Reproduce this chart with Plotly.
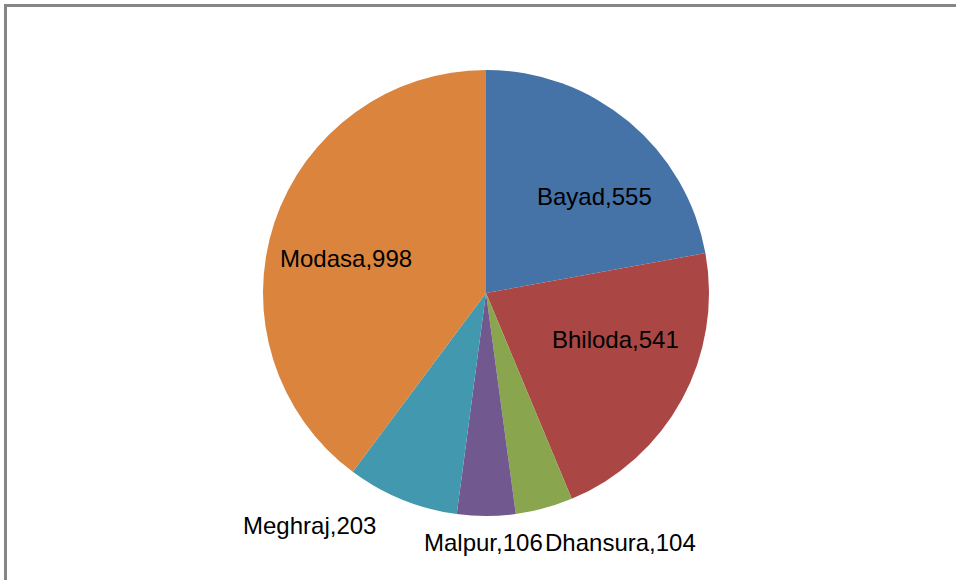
import plotly.graph_objects as go

labels = ["Bayad", "Bhiloda", "Dhansura", "Malpur", "Meghraj", "Modasa"]
values = [555, 541, 104, 106, 203, 998]
colors = ["#4572A7", "#AA4643", "#89A54E", "#71588F", "#4198AF", "#DB843D"]

# label anchor positions (pixels in the 956x580 figure), layout only
label_px = [(594, 196), (615, 340), (620, 542), (483, 542), (309, 525), (346, 258)]

W, H = 956, 580
cx, cy, R = 486, 293, 223

fig = go.Figure(go.Pie(
    labels=labels,
    values=values,
    sort=False,
    direction="clockwise",
    rotation=0,
    marker=dict(colors=colors, line=dict(width=0)),
    textinfo="none",
    showlegend=False,
    hoverinfo="label+value",
    domain=dict(x=[(cx - R) / W, (cx + R) / W], y=[1 - (cy + R) / H, 1 - (cy - R) / H]),
))

annotations = []
for lab, val, (px, py) in zip(labels, values, label_px):
    annotations.append(dict(
        x=px / W, y=1 - py / H, xref="paper", yref="paper",
        text=f"{lab},{val}", showarrow=False,
        xanchor="center", yanchor="middle",
        font=dict(family="Liberation Sans", size=24, color="#000000"),
    ))

fig.update_layout(
    width=W, height=H,
    margin=dict(l=0, r=0, t=0, b=0),
    paper_bgcolor="white",
    plot_bgcolor="white",
    annotations=annotations,
    shapes=[dict(type="rect", xref="paper", yref="paper",
                 x0=5.5 / W, y0=-0.02, x1=1.02, y1=1 - 5.5 / H,
                 line=dict(color="#868686", width=3))],
)

fig.write_html("out.html", config={"displayModeBar": False},
               post_script="document.body.style.margin='0';document.body.style.overflow='hidden';")
